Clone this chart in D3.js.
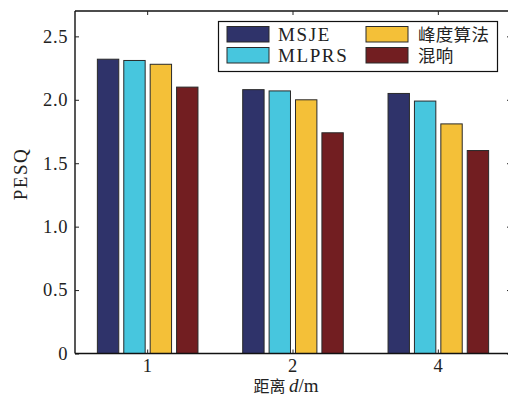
<!DOCTYPE html>
<html>
<head>
<meta charset="utf-8">
<script src="https://cdn.jsdelivr.net/npm/d3@7"></script>
<style>
  html, body { margin: 0; padding: 0; background: #fff; }
  svg { display: block; }
  .lat { font-family: "Liberation Serif", "DejaVu Serif", serif; }
  .cjk { font-family: "Noto Sans CJK SC", sans-serif; }
</style>
</head>
<body>
<svg id="chart" width="508" height="406"></svg>
<script>
// Distance categories (metres) and PESQ scores per method
const distances = ["1", "2", "4"];
const methods = ["MSJE", "MLPRS", "峰度算法", "混响"];
const msje  = [2.32, 2.08, 2.05];
const mlprs = [2.31, 2.07, 1.99];
const kurt  = [2.28, 2.00, 1.81];
const reverb = [2.10, 1.74, 1.60];
const seriesValues = [msje, mlprs, kurt, reverb];
const colors = ["#2f336a", "#47c6de", "#f4c038", "#721e21"];
const yTicks = [0, 0.5, 1.0, 1.5, 2.0, 2.5];
const yTickLabels = ["0", "0.5", "1.0", "1.5", "2.0", "2.5"];

const svg = d3.select("#chart");
const pLeft = 75, pRight = 511, pTop = 11, pBottom = 353.5;

const x0 = d3.scaleBand().domain(distances).range([pLeft, pRight]);
const bw = x0.bandwidth();
const step = 26.4;
const x1 = d3.scaleBand().domain(methods)
  .range([bw / 2 - 2 * step, bw / 2 + 2 * step])
  .paddingInner(0.19).paddingOuter(0.095);
const y = d3.scaleLinear().domain([0, 2.7]).range([pBottom, pTop]);

// Bars
const groups = svg.append("g").selectAll("g")
  .data(distances)
  .join("g")
  .attr("transform", d => `translate(${x0(d)},0)`);

groups.selectAll("rect")
  .data((d, i) => methods.map((m, j) => ({ m, v: seriesValues[j][i], c: colors[j] })))
  .join("rect")
  .attr("x", d => x1(d.m))
  .attr("width", x1.bandwidth())
  .attr("y", d => y(d.v))
  .attr("height", d => y(0) - y(d.v))
  .attr("fill", d => d.c)
  .attr("stroke", "#2a2a2a")
  .attr("stroke-width", 1);

// Axes (ticks pointing inward on all four sides)
const tickLen = 4;
const axisFont = "18.5px";

const yAxisL = svg.append("g").attr("transform", `translate(${pLeft},0)`)
  .call(d3.axisLeft(y).tickValues(yTicks).tickSize(-tickLen).tickPadding(7)
    .tickFormat((d, i) => yTickLabels[i]));
const yAxisR = svg.append("g").attr("transform", `translate(${pRight},0)`)
  .call(d3.axisRight(y).tickValues(yTicks).tickSize(-tickLen).tickFormat(""));
const xAxisB = svg.append("g").attr("transform", `translate(0,${pBottom})`)
  .call(d3.axisBottom(x0).tickSize(-tickLen).tickPadding(5));
const xAxisT = svg.append("g").attr("transform", `translate(0,${pTop})`)
  .call(d3.axisTop(x0).tickSize(-tickLen).tickFormat(""));

[yAxisL, yAxisR, xAxisB, xAxisT].forEach(a => {
  a.select(".domain").attr("stroke", "#111").attr("stroke-width", 1.4);
  a.selectAll(".tick line").attr("stroke", "#222").attr("stroke-width", 1);
  a.selectAll("text").attr("class", "lat").style("font-size", axisFont)
    .style("letter-spacing", "0.6px").attr("fill", "#222");
});
yAxisL.select(".domain").attr("d", `M0,${pTop}V${pBottom}`);
yAxisR.select(".domain").attr("d", `M0,${pTop}V${pBottom}`);
xAxisB.select(".domain").attr("d", `M${pLeft},0H${pRight}`);
xAxisT.select(".domain").attr("d", `M${pLeft},0H${pRight}`);

// Axis titles
svg.append("text")
  .attr("class", "lat")
  .attr("transform", `translate(26.5,174) rotate(-90)`)
  .attr("text-anchor", "middle")
  .style("font-size", "19px").style("letter-spacing", "1.5px").attr("fill", "#222")
  .text("PESQ");

const xt = svg.append("text")
  .attr("x", 286).attr("y", 392)
  .attr("text-anchor", "middle")
  .attr("fill", "#222");
xt.append("tspan").attr("class", "cjk").style("font-size", "16px").text("距离 ");
xt.append("tspan").attr("class", "lat").style("font-size", "19px").style("font-style", "italic").text("d");
xt.append("tspan").attr("class", "lat").style("font-size", "19px").text("/m");

// Legend: two columns, two rows
const legend = svg.append("g");
legend.append("rect")
  .attr("x", 218.5).attr("y", 21.5).attr("width", 279).attr("height", 50)
  .attr("fill", "#fff").attr("stroke", "#111").attr("stroke-width", 1.2);

const legItems = legend.selectAll("g.item")
  .data(methods)
  .join("g")
  .attr("class", "item")
  .attr("transform", (d, i) => `translate(${i < 2 ? 227 : 366},${i % 2 === 0 ? 26.5 : 47.5})`);
legItems.append("rect")
  .attr("width", 42).attr("height", 15.5)
  .attr("fill", (d, i) => colors[i])
  .attr("stroke", "#2a2a2a").attr("stroke-width", 1);
legItems.append("text")
  .attr("class", (d, i) => i < 2 ? "lat" : "cjk")
  .attr("x", (d, i) => i < 2 ? 51 : 52)
  .attr("y", (d, i) => i < 2 ? 14.5 : 14)
  .style("font-size", (d, i) => i < 2 ? "19px" : "17.5px")
  .style("letter-spacing", (d, i) => i < 2 ? "1.6px" : "0.3px")
  .attr("fill", "#222")
  .text(d => d);
</script>
</body>
</html>
